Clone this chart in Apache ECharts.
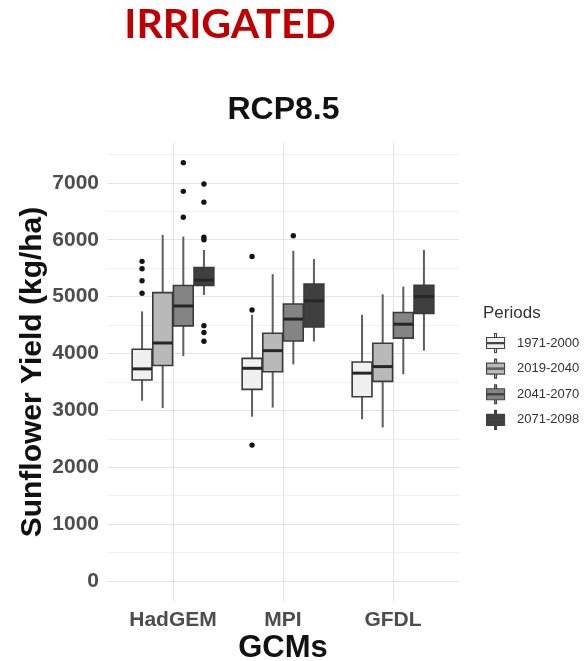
<!DOCTYPE html>
<html>
<head>
<meta charset="utf-8">
<title>Sunflower yield, irrigated, RCP8.5</title>
<script src="https://cdn.jsdelivr.net/npm/echarts@6/dist/echarts.min.js"></script>
<style>
  html, body { margin: 0; padding: 0; background: #ffffff; }
  #chart { width: 585px; height: 661px; }
</style>
</head>
<body>
<div id="chart"></div>
<script>
// ---- data -------------------------------------------------------------
const gcms = ['HadGEM', 'MPI', 'GFDL'];
const periods = ['1971-2000', '2019-2040', '2041-2070', '2071-2098'];

// [lower whisker, Q1, median, Q3, upper whisker] per GCM (kg/ha)
const box1971 = [[3170, 3535, 3730, 4075, 4740], [2890, 3370, 3740, 3915, 4680], [2845, 3240, 3655, 3850, 4680]];
const box2019 = [[3040, 3790, 4185, 5070, 6085], [3050, 3680, 4050, 4355, 5395], [2700, 3510, 3770, 4180, 5040]];
const box2041 = [[3955, 4485, 4835, 5195, 6055], [3810, 4220, 4605, 4870, 5805], [3635, 4270, 4515, 4720, 5175]];
const box2071 = [[5030, 5195, 5290, 5510, 5820], [4210, 4465, 4925, 5220, 5660], [4050, 4705, 5000, 5200, 5820]];

// outlying years per GCM (kg/ha)
const out1971 = [[5620, 5490, 5280, 5060], [5705, 4765, 2390], []];
const out2019 = [[], [], []];
const out2041 = [[7355, 6850, 6395], [6070], []];
const out2071 = [[6980, 6660, 6045, 6000, 4490, 4370, 4215], [], []];

const yTickLabels = [0, 1000, 2000, 3000, 4000, 5000, 6000, 7000];

// ---- styling ----------------------------------------------------------
const boxes = [box1971, box2019, box2041, box2071];
const outliers = [out1971, out2019, out2041, out2071];
const FILLS = ['#f0f0f0', '#b9b9b9', '#848484', '#3f3f3f'];
const DODGE = 0.75;            // share of a category band used by the dodged boxes
const SANS = '"Liberation Sans", Arial, sans-serif';
const GRID_MAJOR = '#e4e4e4';
const GRID_MINOR = '#f1f1f1';
const NONE = 'rgba(0,0,0,0)';

// horizontal grid: ticks every 50 from -350, so index 7 is 0 and index 17 is 500
const gridColors = [];
for (let i = 0; i < 20; i++) gridColors.push(i === 7 ? GRID_MAJOR : i === 17 ? GRID_MINOR : NONE);

function dodgeOf(api, p) {
  const band = api.size([1, 0])[0];
  const step = band * DODGE / periods.length;
  return { step: step, shift: (p - (periods.length - 1) / 2) * step };
}

function renderBox(p) {
  return function (params, api) {
    const cat = api.value(0);
    const d = dodgeOf(api, p);
    const x = api.coord([cat, 0])[0] + d.shift;
    const y = function (dim) { return api.coord([cat, api.value(dim)])[1]; };
    const lo = y(1), q1 = y(2), med = y(3), q3 = y(4), hi = y(5);
    const half = d.step * 0.48;
    const whisker = { stroke: '#5e5e5e', lineWidth: 2 };
    return {
      type: 'group',
      children: [
        { type: 'line', shape: { x1: x, y1: hi, x2: x, y2: q3 }, style: whisker },
        { type: 'line', shape: { x1: x, y1: q1, x2: x, y2: lo }, style: whisker },
        { type: 'rect', shape: { x: x - half, y: q3, width: 2 * half, height: q1 - q3 },
          style: { fill: FILLS[p], stroke: '#3a3a3a', lineWidth: 1.6 } },
        { type: 'line', shape: { x1: x - half, y1: med, x2: x + half, y2: med },
          style: { stroke: '#262626', lineWidth: 3 } }
      ]
    };
  };
}

function renderOutlier(p) {
  return function (params, api) {
    const cat = api.value(0);
    const d = dodgeOf(api, p);
    const pt = api.coord([cat, api.value(1)]);
    return { type: 'circle', shape: { cx: pt[0] + d.shift, cy: pt[1], r: 2.7 }, style: { fill: '#141414' } };
  };
}

const series = [];
periods.forEach(function (name, p) {
  series.push({
    name: name, type: 'custom', xAxisIndex: 1, yAxisIndex: 1,
    itemStyle: { color: FILLS[p] },
    encode: { x: 0, y: [1, 2, 3, 4, 5] },
    data: boxes[p].map(function (b, i) { return [i].concat(b); }),
    renderItem: renderBox(p)
  });
});
periods.forEach(function (name, p) {
  const pts = [];
  outliers[p].forEach(function (vals, i) { vals.forEach(function (v) { pts.push([i, v]); }); });
  series.push({
    name: name, type: 'custom', xAxisIndex: 1, yAxisIndex: 1,
    itemStyle: { color: FILLS[p] },
    encode: { x: 0, y: 1 },
    data: pts,
    renderItem: renderOutlier(p)
  });
});

// legend key: a small boxplot glyph
const KEY_ICON = 'path://M9,0 h2 v4 h-2 z M1,4 h18 v11 h-18 z M1,8.9 h18 v1.2 h-18 z M9,15 h2 v4 h-2 z';

const chart = echarts.init(document.getElementById('chart'), null, { renderer: 'canvas' });
chart.setOption({
  animation: false,
  backgroundColor: '#ffffff',
  grid: [
    // full panel: horizontal grid + y labels
    { left: 107, right: 126, top: 143, bottom: 60, containLabel: false, outerBoundsMode: 'none' },
    // category bands for the boxes
    { left: 118, right: 137, top: 143, bottom: 60, containLabel: false, outerBoundsMode: 'none' }
  ],
  xAxis: [
    { gridIndex: 0, type: 'value', min: 0, max: 1, show: false },
    {
      gridIndex: 1, type: 'category', data: gcms,
      axisLine: { show: false }, axisTick: { show: false },
      axisLabel: { interval: 0, margin: 9, color: '#4d4d4d', fontFamily: SANS, fontWeight: 'bold', fontSize: 21 },
      splitLine: { show: true, interval: 0, alignWithLabel: true, lineStyle: { color: GRID_MAJOR, width: 1.2 } },
      name: 'GCMs', nameLocation: 'middle', nameGap: 32, nameMoveOverlap: false,
      nameTextStyle: { color: '#111111', fontFamily: SANS, fontWeight: 'bold', fontSize: 31 }
    }
  ],
  yAxis: [
    {
      gridIndex: 0, type: 'value', min: -350, max: 7700, interval: 50,
      axisLine: { show: false }, axisTick: { show: false },
      axisLabel: {
        margin: 8, color: '#4d4d4d', fontFamily: SANS, fontWeight: 'bold', fontSize: 21,
        formatter: function (v) { return yTickLabels.indexOf(v) >= 0 ? String(v) : ''; }
      },
      splitLine: { show: true, lineStyle: { color: gridColors, width: 1.2 } },
      name: 'Sunflower Yield (kg/ha)', nameLocation: 'middle', nameGap: 59, nameRotate: 90,
      nameMoveOverlap: false,
      nameTextStyle: { color: '#111111', fontFamily: SANS, fontWeight: 'bold', fontSize: 30 }
    },
    { gridIndex: 1, type: 'value', min: -350, max: 7700, show: false, splitLine: { show: false } }
  ],
  legend: {
    orient: 'vertical', left: 481, top: 328,
    itemWidth: 33, itemHeight: 19, itemGap: 5.5,
    selectedMode: false,
    textStyle: { color: '#333333', fontFamily: SANS, fontSize: 13 },
    data: periods.map(function (name, p) {
      return { name: name, icon: KEY_ICON, itemStyle: { color: FILLS[p], borderColor: '#444444', borderWidth: 1.1 } };
    })
  },
  graphic: [
    { type: 'text', x: 230, y: 25, style: { text: 'IRRIGATED', fill: '#c00000',
      font: 'bold 41px Lato, "Open Sans", sans-serif', align: 'center', verticalAlign: 'middle' } },
    { type: 'text', x: 283.5, y: 110, style: { text: 'RCP8.5', fill: '#111111',
      font: 'bold 32px "Liberation Sans", Arial, sans-serif', align: 'center', verticalAlign: 'middle' } },
    { type: 'text', x: 483, y: 313, style: { text: 'Periods', fill: '#333333',
      font: '17px "Liberation Sans", Arial, sans-serif', align: 'left', verticalAlign: 'middle' } }
  ],
  series: series
});
</script>
</body>
</html>
